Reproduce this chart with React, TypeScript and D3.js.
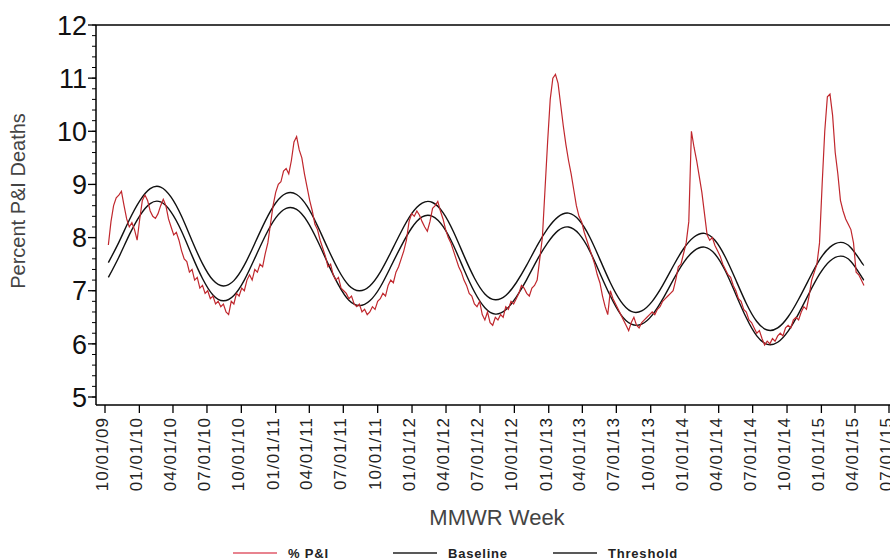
import * as d3 from 'd3';

// weekly % P&I, MMWR week ending 10/10/09 onward
const pctPI = [
  7.86, 8.3, 8.6, 8.75, 8.8, 8.87, 8.6, 8.35, 8.2, 8.28,
  8.15, 7.95, 8.35, 8.7, 8.8, 8.7, 8.5, 8.4, 8.36, 8.45,
  8.6, 8.72, 8.6, 8.35, 8.2, 8.05, 8.1, 7.95, 7.75, 7.6,
  7.55, 7.35, 7.4, 7.2, 7.25, 7.05, 7.1, 6.95, 7.0, 6.85,
  6.9, 6.75, 6.8, 6.7, 6.75, 6.6, 6.55, 6.8, 6.75, 6.95,
  6.9, 7.05, 7.0, 7.2, 7.3, 7.2, 7.4, 7.35, 7.5, 7.45,
  7.7, 7.9, 8.25, 8.6, 8.85, 9.0, 9.05, 9.25, 9.3, 9.2,
  9.45, 9.8, 9.9, 9.65, 9.5, 9.2, 8.95, 8.7, 8.5, 8.25,
  8.15, 7.95, 7.8, 7.65, 7.45, 7.5, 7.3, 7.2, 7.25, 7.05,
  7.0, 6.95, 6.85, 6.9, 6.75, 6.7, 6.75, 6.6, 6.65, 6.55,
  6.6, 6.7, 6.65, 6.8, 6.85, 6.95, 6.9, 7.1, 7.2, 7.15,
  7.35, 7.45, 7.6, 7.75, 7.95, 8.3, 8.45, 8.4, 8.5, 8.42,
  8.3, 8.2, 8.12, 8.3, 8.55, 8.6, 8.68, 8.5, 8.35, 8.15,
  8.0, 7.9, 7.75, 7.6, 7.45, 7.35, 7.2, 7.1, 6.95, 6.9,
  6.75, 6.7, 6.8, 6.55, 6.45, 6.6, 6.4, 6.35, 6.5, 6.45,
  6.55, 6.5, 6.7, 6.65, 6.8, 6.75, 6.85, 6.95, 7.1, 7.05,
  6.95, 6.9, 7.05, 7.1, 7.2, 7.6, 8.0, 8.9, 9.8, 10.6,
  11.0, 11.07, 10.9, 10.5, 10.1, 9.75, 9.45, 9.2, 8.9, 8.6,
  8.4, 8.3, 8.1, 7.95, 7.8, 7.65, 7.5, 7.3, 7.15, 6.9,
  6.7, 6.55, 7.0, 6.85, 6.75, 6.65, 6.55, 6.45, 6.35, 6.25,
  6.4, 6.5, 6.35, 6.3, 6.4, 6.45, 6.5, 6.55, 6.6, 6.55,
  6.65, 6.7, 6.8, 6.85, 6.9, 6.95, 7.0, 7.2, 7.45, 7.5,
  7.7, 7.9, 8.3, 10.0, 9.7, 9.45, 9.15, 8.85, 8.45, 8.05,
  7.95, 8.0, 7.85, 7.75, 7.65, 7.5, 7.4, 7.3, 7.25, 7.1,
  7.0, 6.85, 6.8, 6.65, 6.6, 6.45, 6.4, 6.3, 6.2, 6.25,
  6.1, 5.98, 6.05, 6.0, 6.1, 6.05, 6.15, 6.2, 6.15, 6.3,
  6.35, 6.3, 6.45, 6.5, 6.45, 6.6, 6.7, 6.65, 6.9, 7.2,
  7.35, 7.5, 7.9, 9.0, 10.0, 10.65, 10.7, 10.3, 9.6, 9.2,
  8.7, 8.5, 8.35, 8.25, 8.15, 7.9, 7.35, 7.3, 7.2, 7.1,
];

// baseline / threshold read every 4th week (week index 0, 4, ... 288, 289)
const curveWeeks = [...d3.range(0, 289, 4), 289];

const baseline = [
  7.25, 7.63, 8.05, 8.41, 8.64, 8.67, 8.48, 8.12, 7.66, 7.23,
  6.92, 6.81, 6.91, 7.2, 7.61, 8.03, 8.37, 8.55, 8.53, 8.31,
  7.94, 7.51, 7.11, 6.82, 6.72, 6.81, 7.07, 7.45, 7.84, 8.18,
  8.39, 8.4, 8.21, 7.85, 7.4, 6.98, 6.68, 6.56, 6.64, 6.88,
  7.21, 7.58, 7.9, 8.13, 8.2, 8.07, 7.76, 7.33, 6.9, 6.55,
  6.37, 6.37, 6.54, 6.84, 7.2, 7.53, 7.75, 7.82, 7.69, 7.37,
  6.93, 6.49, 6.15, 5.99, 6.03, 6.24, 6.57, 6.95, 7.31, 7.56,
  7.65, 7.55, 7.27, 7.2,
];

const threshold = [
  7.53, 7.91, 8.33, 8.69, 8.92, 8.95, 8.76, 8.4, 7.94, 7.51,
  7.2, 7.09, 7.19, 7.48, 7.89, 8.31, 8.65, 8.83, 8.81, 8.59,
  8.22, 7.79, 7.39, 7.1, 7.0, 7.09, 7.35, 7.72, 8.11, 8.45,
  8.65, 8.66, 8.47, 8.11, 7.66, 7.24, 6.94, 6.83, 6.91, 7.15,
  7.48, 7.85, 8.17, 8.39, 8.46, 8.33, 8.02, 7.59, 7.15, 6.8,
  6.61, 6.62, 6.8, 7.1, 7.46, 7.79, 8.01, 8.08, 7.95, 7.63,
  7.2, 6.76, 6.42, 6.26, 6.3, 6.51, 6.84, 7.22, 7.58, 7.82,
  7.91, 7.81, 7.54, 7.48,
];

const yTicks = [5, 6, 7, 8, 9, 10, 11, 12];
const legendItems = [
  { label: '% P&I', color: '#c0272d' },
  { label: 'Baseline', color: '#111' },
  { label: 'Threshold', color: '#111' },
];

const weekDate = (i: number) => new Date(2009, 9, 10 + 7 * i);

const FONT = '"Liberation Sans", Arial, sans-serif';
const RED = '#c0272d';

export default function App() {
  const width = 890;
  const height = 559;
  const left = 96;
  const top = 25;
  const bottom = 405;
  const right = 899;

  const x = d3
    .scaleTime()
    .domain([new Date(2009, 9, 1), new Date(2015, 6, 1)])
    .range([105, 889]);

  const y = d3.scaleLinear().domain([5, 12]).range([397, 25]);

  const redLine = d3
    .line<number>()
    .x((d, i) => x(weekDate(i)))
    .y((d) => y(d));

  const smoothLine = d3
    .line<number>()
    .x((d, i) => x(weekDate(curveWeeks[i])))
    .y((d) => y(d))
    .curve(d3.curveNatural);

  const xTicks = x.ticks(d3.timeMonth.every(3)!);
  const fmt = d3.timeFormat('%m/%d/%y');
  const minorY = d3.range(5, 12.001, 0.2);

  const legendX = [233, 393, 553];

  return (
    <svg
      width={width}
      height={height}
      style={{ position: 'absolute', left: 0, top: 0, background: '#fff' }}
      fontFamily={FONT}
    >
      {/* frame */}
      <line x1={left} x2={right} y1={top} y2={top} stroke="#000" strokeWidth={1.5} />
      <line x1={left} x2={right} y1={bottom} y2={bottom} stroke="#000" strokeWidth={1.5} />
      <line x1={left} x2={left} y1={top} y2={bottom} stroke="#000" strokeWidth={1.5} />

      {/* y axis */}
      {minorY.map((v) => (
        <line key={'m' + v} x1={left - 4} x2={left} y1={y(v)} y2={y(v)} stroke="#000" strokeWidth={1} />
      ))}
      {yTicks.map((v) => (
        <g key={v}>
          <line x1={left - 8} x2={left} y1={y(v)} y2={y(v)} stroke="#000" strokeWidth={1.3} />
          <text x={left - 9} y={y(v)} dy="0.36em" textAnchor="end" fontSize={27} fill="#111">
            {v}
          </text>
        </g>
      ))}
      <text
        transform={`translate(25, 201) rotate(-90)`}
        textAnchor="middle"
        fontSize={20}
        fill="#444"
      >
        Percent P&amp;I Deaths
      </text>

      {/* x axis */}
      {xTicks.map((d) => (
        <g key={+d}>
          <line x1={x(d)} x2={x(d)} y1={bottom} y2={bottom + 8} stroke="#000" strokeWidth={1.3} />
          <text
            transform={`translate(${x(d) + 3}, ${bottom + 12}) rotate(-90)`}
            textAnchor="end"
            fontSize={17}
            letterSpacing={1}
            fill="#222"
          >
            {fmt(d)}
          </text>
        </g>
      ))}
      <text x={497} y={525} textAnchor="middle" fontSize={22} fill="#444">
        MMWR Week
      </text>

      {/* series */}
      <path d={smoothLine(baseline) || ''} fill="none" stroke="#111" strokeWidth={1.4} />
      <path d={smoothLine(threshold) || ''} fill="none" stroke="#111" strokeWidth={1.4} />
      <path d={redLine(pctPI) || ''} fill="none" stroke={RED} strokeWidth={1.2} />

      {/* legend */}
      {legendItems.map((item, i) => (
        <g key={item.label}>
          <line
            x1={legendX[i]}
            x2={legendX[i] + 44}
            y1={553}
            y2={553}
            stroke={item.color === RED ? '#e05a6a' : '#222'}
            strokeWidth={1.3}
          />
          <text
            x={legendX[i] + 55}
            y={557.5}
            fontSize={13}
            fontWeight="bold"
            letterSpacing={0.8}
            fill="#222"
          >
            {item.label}
          </text>
        </g>
      ))}
    </svg>
  );
}
